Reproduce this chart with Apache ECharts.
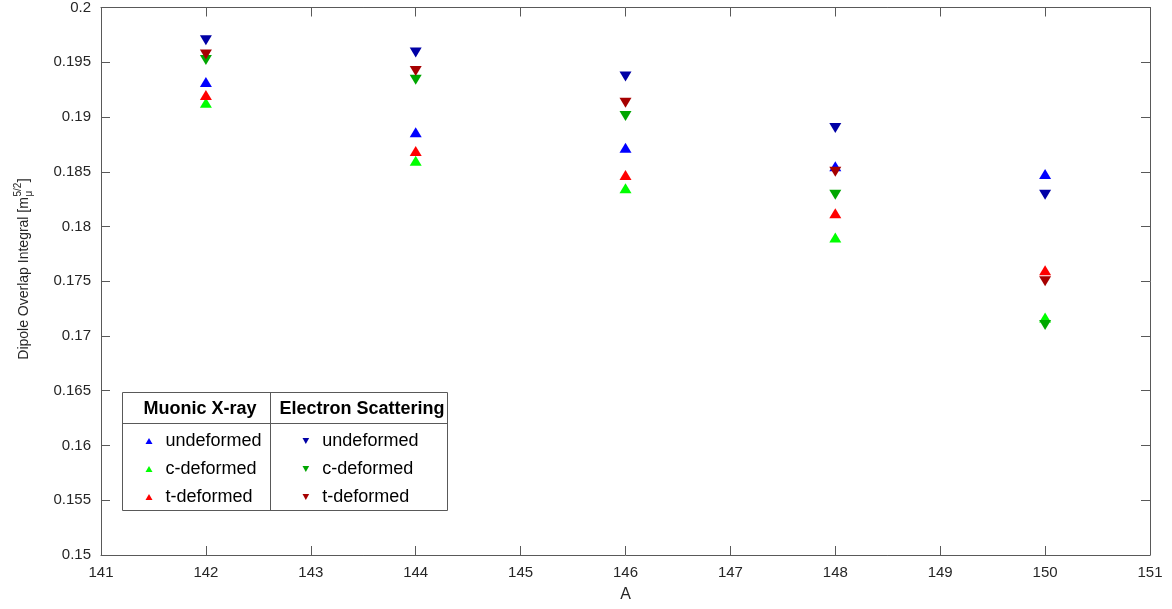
<!DOCTYPE html>
<html>
<head>
<meta charset="utf-8">
<script src="https://cdn.jsdelivr.net/npm/echarts@6/dist/echarts.min.js"></script>
<style>
html,body{margin:0;padding:0;background:#fff;}
#chart{width:1172px;height:609px;}
</style>
</head>
<body>
<div id="chart"></div>
<script>
// ---- data ----
const massNumbers = [142, 144, 146, 148, 150];
const muonicUndeformed = [0.1932, 0.1886, 0.1872, 0.1855, 0.1848];
const muonicCDeformed  = [0.1913, 0.1860, 0.1835, 0.1790, 0.1717];
const muonicTDeformed  = [0.1920, 0.1869, 0.1847, 0.1812, 0.1760];
const electronUndeformed = [0.1970, 0.1959, 0.1937, 0.1890, 0.1829];
const electronCDeformed  = [0.1952, 0.1934, 0.1901, 0.1829, 0.1710];
const electronTDeformed  = [0.1957, 0.1942, 0.1913, 0.1850, 0.1750];
const rowLabels = ['undeformed', 'c-deformed', 't-deformed'];
const groupLabels = ['Muonic X-ray', 'Electron Scattering'];
const xTickMin = 141, xTickMax = 151, xTickStep = 1;
const yTickMin = 0.15, yTickMax = 0.2, yTickStep = 0.005;

const upColors = ['#0000FF', '#00FF00', '#FF0000'];
const downColors = ['#0000A6', '#00A600', '#A60000'];
const DOWN_PATH = 'path://M0,0L10,0L5,9Z';

const FONT = '"Liberation Sans", Arial, sans-serif';
const axisColor = '#595959';
const textColor = '#262626';

function pairs(ys) { return massNumbers.map((x, i) => [x, ys[i]]); }

const muonicSets = [muonicUndeformed, muonicCDeformed, muonicTDeformed];
const electronSets = [electronUndeformed, electronCDeformed, electronTDeformed];

const series = [];
muonicSets.forEach((ys, i) => {
  series.push({
    name: 'mx|' + rowLabels[i], type: 'scatter', data: pairs(ys),
    symbol: 'triangle', symbolSize: [12, 10],
    itemStyle: { color: upColors[i], opacity: 1 }, z: 2 + i
  });
});
electronSets.forEach((ys, i) => {
  series.push({
    name: 'es|' + rowLabels[i], type: 'scatter', data: pairs(ys),
    symbol: 'triangle', symbolRotate: 180, symbolSize: [12, 10],
    itemStyle: { color: downColors[i], opacity: 1 }, z: 5 + i
  });
});

const chart = echarts.init(document.getElementById('chart'), null, { renderer: 'canvas' });

// measure text for y-axis title
const ctx = document.createElement('canvas').getContext('2d');
function tw(t, size) { ctx.font = size + 'px ' + FONT; return ctx.measureText(t).width; }
const mainTitle = 'Dipole Overlap Integral [m';
const tSize = 14, sSize = 10;
const w1 = tw(mainTitle, tSize), wSup = tw('5/2', sSize), wSub = tw('\u03bc', sSize), wEnd = tw(']', tSize);
const W = w1 + Math.max(wSup, wSub) + 1 + wEnd;
const x0 = -W / 2;

const legendCommon = {
  orient: 'vertical', padding: 0, itemWidth: 7, itemHeight: 6, itemGap: 10, z: 10,
  selectedMode: false,
  formatter: n => n.split('|')[1],
  textStyle: { fontFamily: FONT, fontSize: 18, lineHeight: 18, color: '#000', padding: [0, 0, 0, 8] }
};

const option = {
  animation: false,
  backgroundColor: '#fff',
  grid: { left: 101, right: 22, top: 6, bottom: 54, containLabel: false },
  xAxis: [{
    type: 'value', min: xTickMin, max: xTickMax, interval: xTickStep, position: 'bottom',
    name: 'A', nameLocation: 'middle', nameGap: 32,
    nameTextStyle: { fontFamily: FONT, fontSize: 16, color: textColor },
    axisLine: { show: true, lineStyle: { color: axisColor, width: 1 } },
    axisTick: { show: true, inside: true, length: 9, lineStyle: { color: axisColor } },
    axisLabel: { fontFamily: FONT, fontSize: 15, color: textColor, margin: 10, showMinLabel: true, showMaxLabel: true },
    splitLine: { show: false }
  }, {
    type: 'value', min: xTickMin, max: xTickMax, interval: xTickStep, position: 'top',
    axisLine: { show: true, lineStyle: { color: axisColor, width: 1 } },
    axisTick: { show: true, inside: true, length: 9, lineStyle: { color: axisColor } },
    axisLabel: { show: false }, splitLine: { show: false }
  }],
  yAxis: [{
    type: 'value', min: yTickMin, max: yTickMax, interval: yTickStep, position: 'left',
    axisLine: { show: true, lineStyle: { color: axisColor, width: 1 } },
    axisTick: { show: true, inside: true, length: 9, lineStyle: { color: axisColor } },
    axisLabel: { fontFamily: FONT, fontSize: 15, color: textColor, margin: 10,
      showMinLabel: true, showMaxLabel: true,
      formatter: v => String(+v.toFixed(3)) },
    splitLine: { show: false }
  }, {
    type: 'value', min: yTickMin, max: yTickMax, interval: yTickStep, position: 'right',
    axisLine: { show: true, lineStyle: { color: axisColor, width: 1 } },
    axisTick: { show: true, inside: true, length: 9, lineStyle: { color: axisColor } },
    axisLabel: { show: false }, splitLine: { show: false }
  }],
  legend: [
    Object.assign({}, legendCommon, {
      left: 145.5, top: 432,
      data: rowLabels.map(r => ({ name: 'mx|' + r, icon: 'triangle' }))
    }),
    Object.assign({}, legendCommon, {
      left: 302.5, top: 432,
      data: rowLabels.map(r => ({ name: 'es|' + r, icon: DOWN_PATH }))
    })
  ],
  graphic: [
    { type: 'rect', z: 5, shape: { x: 122.5, y: 392.5, width: 325, height: 118 },
      style: { fill: '#fff', stroke: axisColor, lineWidth: 1 } },
    { type: 'line', z: 6, shape: { x1: 122.5, y1: 423.5, x2: 447.5, y2: 423.5 },
      style: { stroke: axisColor, lineWidth: 1 } },
    { type: 'line', z: 6, shape: { x1: 270.5, y1: 392.5, x2: 270.5, y2: 510.5 },
      style: { stroke: axisColor, lineWidth: 1 } },
    { type: 'text', z: 7, style: { x: 200, y: 409, text: groupLabels[0], align: 'center', verticalAlign: 'middle',
      font: 'bold 18px ' + FONT, fill: '#000' } },
    { type: 'text', z: 7, style: { x: 362, y: 409, text: groupLabels[1], align: 'center', verticalAlign: 'middle',
      font: 'bold 18px ' + FONT, fill: '#000' } },
    {
      type: 'group', x: 24, y: 269, rotation: Math.PI / 2, z: 7,
      children: [
        { type: 'text', style: { x: x0, y: 0, text: mainTitle, align: 'left', verticalAlign: 'middle',
          font: tSize + 'px ' + FONT, fill: textColor } },
        { type: 'text', style: { x: x0 + w1 + 0.5, y: -6, text: '5/2', align: 'left', verticalAlign: 'middle',
          font: sSize + 'px ' + FONT, fill: textColor } },
        { type: 'text', style: { x: x0 + w1 + 0.5, y: 5, text: '\u03bc', align: 'left', verticalAlign: 'middle',
          font: sSize + 'px ' + FONT, fill: textColor } },
        { type: 'text', style: { x: x0 + w1 + Math.max(wSup, wSub) + 1, y: 0, text: ']', align: 'left', verticalAlign: 'middle',
          font: tSize + 'px ' + FONT, fill: textColor } }
      ]
    }
  ],
  series: series
};
chart.setOption(option);
</script>
</body>
</html>
